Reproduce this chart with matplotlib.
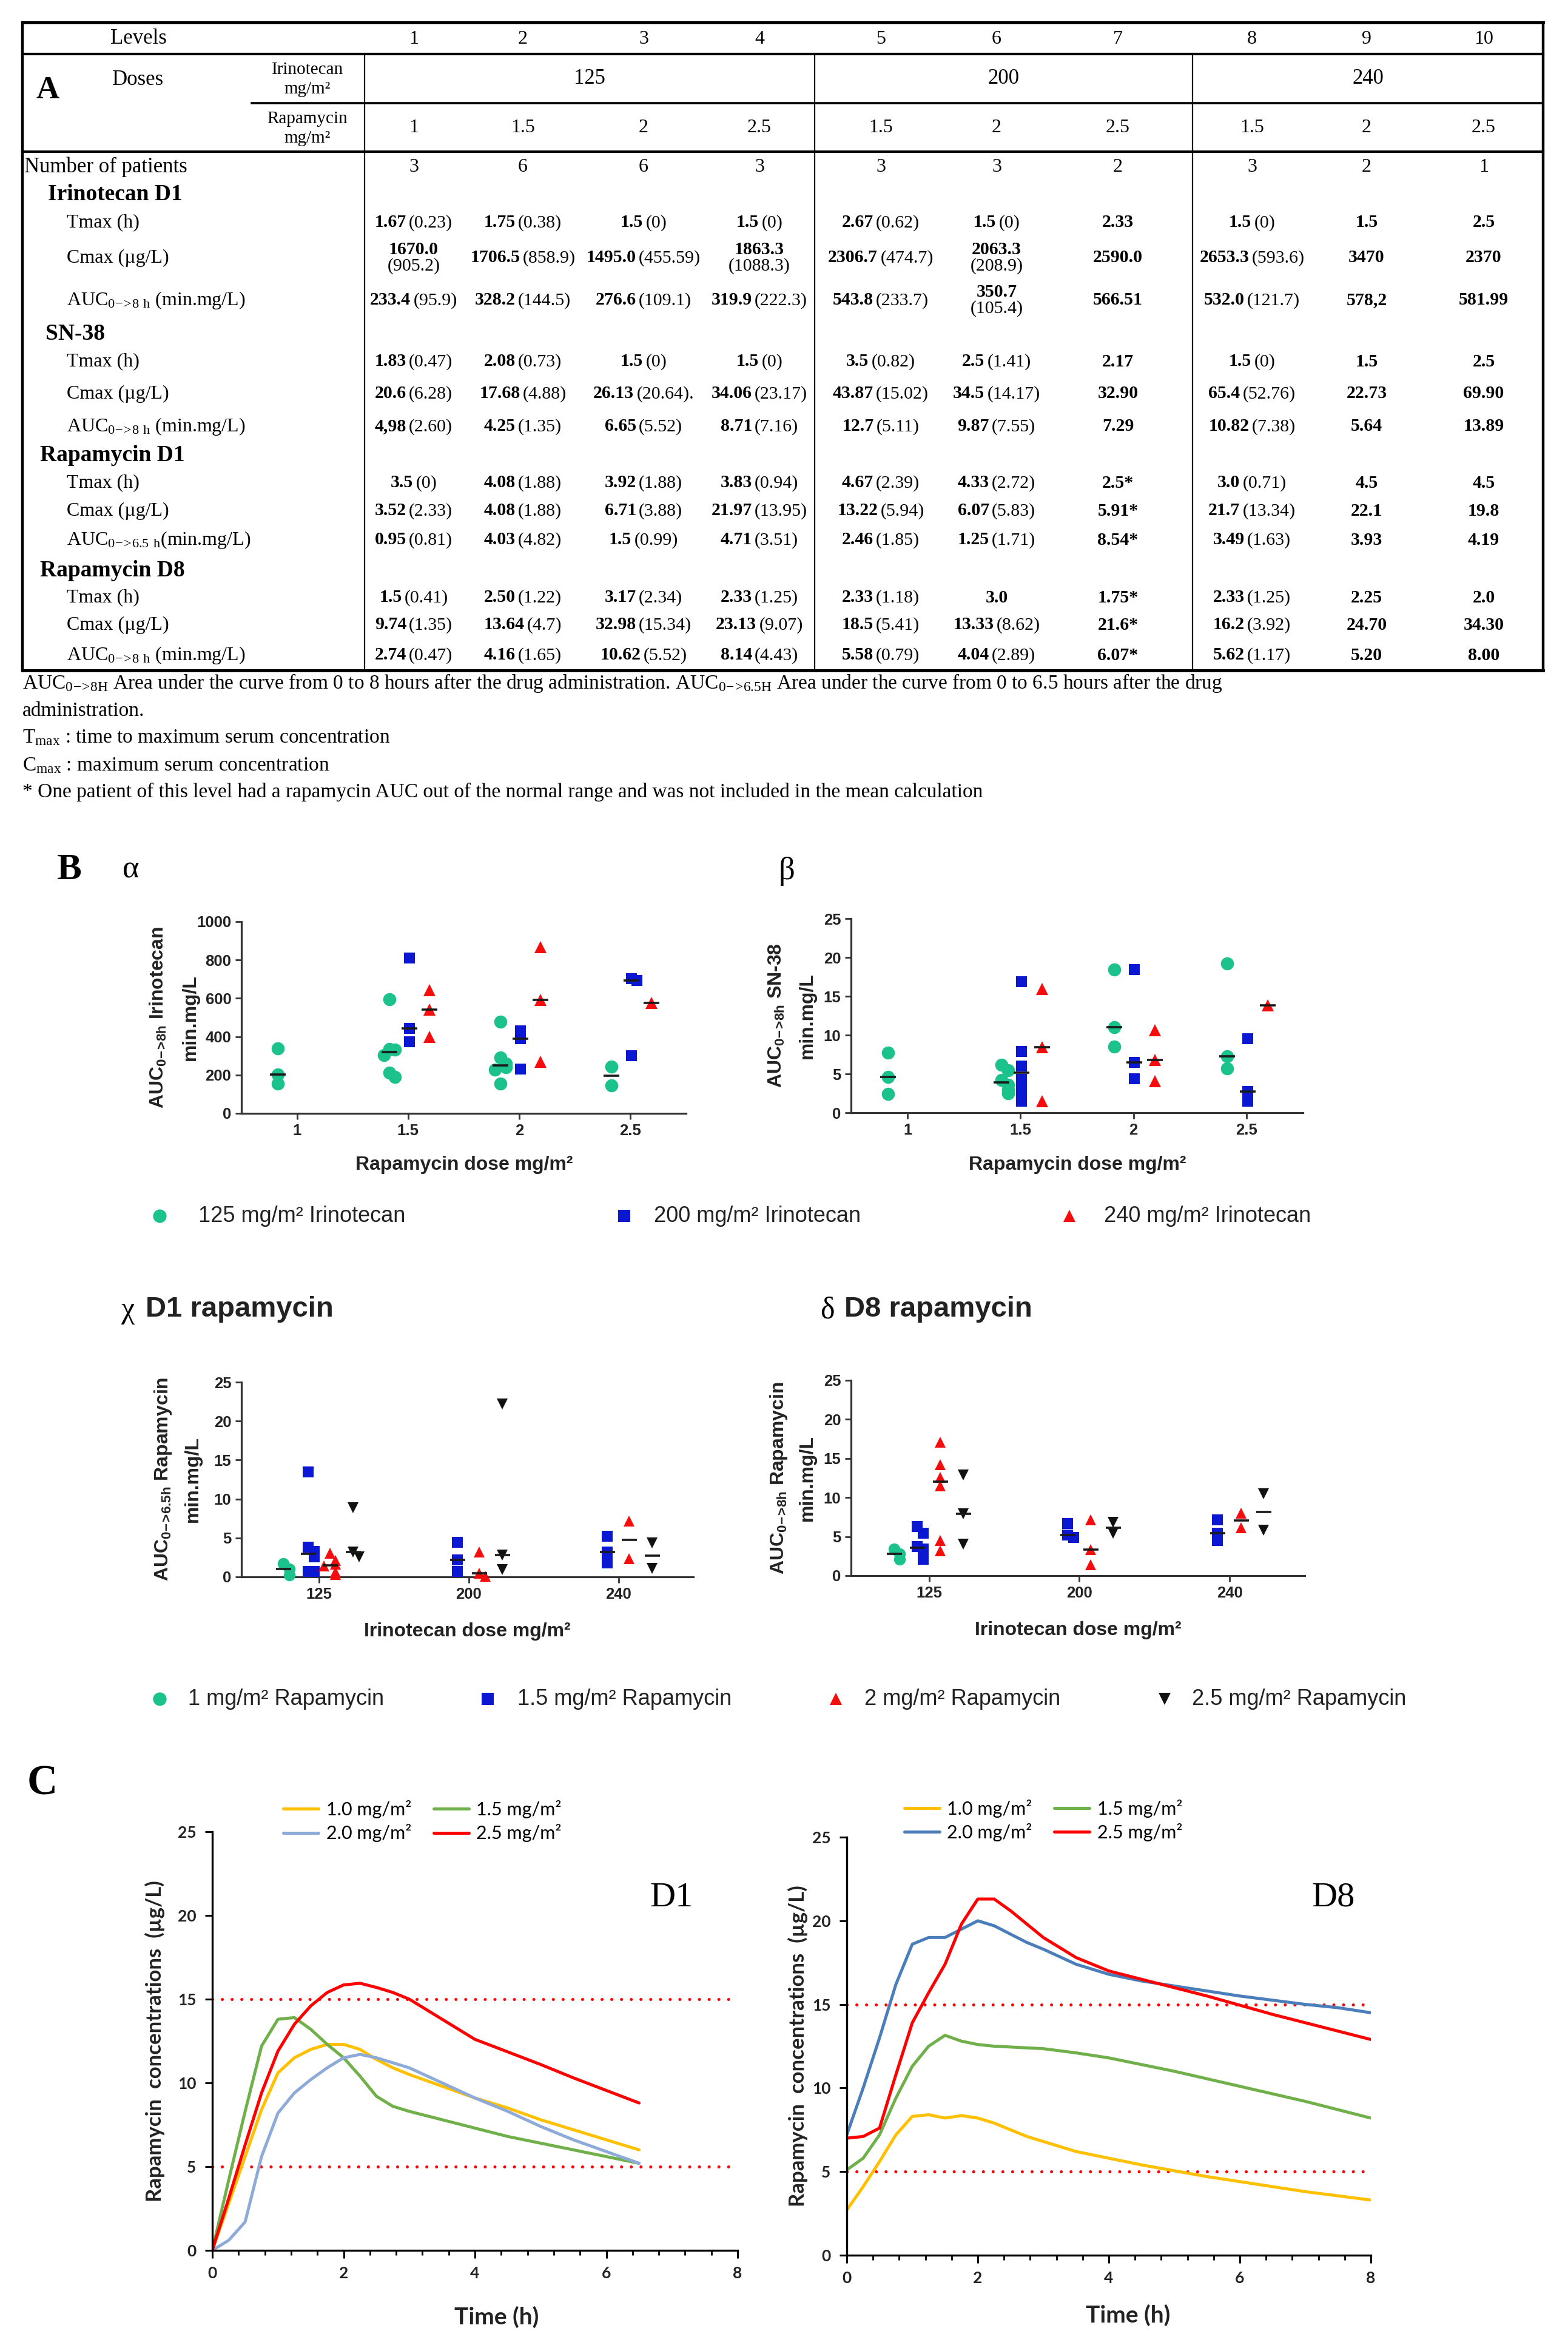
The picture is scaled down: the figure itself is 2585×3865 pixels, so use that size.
import numpy as np
import matplotlib
matplotlib.use("Agg")
import matplotlib.pyplot as plt
from matplotlib.lines import Line2D
from matplotlib.ticker import MultipleLocator
from matplotlib.offsetbox import TextArea, HPacker, VPacker, AnnotationBbox

plt.rcParams['mathtext.default'] = 'regular'

SERIF = 'Liberation Serif'
SANS = 'Liberation Sans'
CAL = 'Lato'

# ---------------- table data (A) ----------------
levels = ["1", "2", "3", "4", "5", "6", "7", "8", "9", "10"]
irino_groups = ["125", "200", "240"]
rapa_doses = ["1", "1.5", "2", "2.5", "1.5", "2", "2.5", "1.5", "2", "2.5"]
n_patients = ["3", "6", "6", "3", "3", "3", "2", "3", "2", "1"]

irino_tmax = ["1.67 (0.23)", "1.75 (0.38)", "1.5 (0)", "1.5 (0)", "2.67 (0.62)", "1.5 (0)", "2.33", "1.5 (0)", "1.5", "2.5"]
irino_cmax = ["1670.0\n(905.2)", "1706.5 (858.9)", "1495.0 (455.59)", "1863.3\n(1088.3)", "2306.7 (474.7)",
              "2063.3\n(208.9)", "2590.0", "2653.3 (593.6)", "3470", "2370"]
irino_auc = ["233.4 (95.9)", "328.2 (144.5)", "276.6 (109.1)", "319.9 (222.3)", "543.8 (233.7)",
             "350.7\n(105.4)", "566.51", "532.0 (121.7)", "578,2", "581.99"]
sn38_tmax = ["1.83 (0.47)", "2.08 (0.73)", "1.5 (0)", "1.5 (0)", "3.5 (0.82)", "2.5 (1.41)", "2.17", "1.5 (0)", "1.5", "2.5"]
sn38_cmax = ["20.6 (6.28)", "17.68 (4.88)", "26.13 (20.64).", "34.06 (23.17)", "43.87 (15.02)", "34.5 (14.17)",
             "32.90", "65.4 (52.76)", "22.73", "69.90"]
sn38_auc = ["4,98 (2.60)", "4.25 (1.35)", "6.65 (5.52)", "8.71 (7.16)", "12.7 (5.11)", "9.87 (7.55)", "7.29",
            "10.82 (7.38)", "5.64", "13.89"]
rd1_tmax = ["3.5 (0)", "4.08 (1.88)", "3.92 (1.88)", "3.83 (0.94)", "4.67 (2.39)", "4.33 (2.72)", "2.5*", "3.0 (0.71)", "4.5", "4.5"]
rd1_cmax = ["3.52 (2.33)", "4.08 (1.88)", "6.71 (3.88)", "21.97 (13.95)", "13.22 (5.94)", "6.07 (5.83)", "5.91*",
            "21.7 (13.34)", "22.1", "19.8"]
rd1_auc = ["0.95 (0.81)", "4.03 (4.82)", "1.5 (0.99)", "4.71 (3.51)", "2.46 (1.85)", "1.25 (1.71)", "8.54*",
           "3.49 (1.63)", "3.93", "4.19"]
rd8_tmax = ["1.5 (0.41)", "2.50 (1.22)", "3.17 (2.34)", "2.33 (1.25)", "2.33 (1.18)", "3.0", "1.75*", "2.33 (1.25)", "2.25", "2.0"]
rd8_cmax = ["9.74 (1.35)", "13.64 (4.7)", "32.98 (15.34)", "23.13 (9.07)", "18.5 (5.41)", "13.33 (8.62)", "21.6*",
            "16.2 (3.92)", "24.70", "34.30"]
rd8_auc = ["2.74 (0.47)", "4.16 (1.65)", "10.62 (5.52)", "8.14 (4.43)", "5.58 (0.79)", "4.04 (2.89)", "6.07*",
           "5.62 (1.17)", "5.20", "8.00"]

# ---------------- scatter data (B) ----------------
rapa_ticks = [1, 1.5, 2, 2.5]
alpha_125 = [[340, 204, 154], [595, 337, 333, 305, 213, 190], [478, 291, 261, 240, 227, 155], [243, 147]]
alpha_200 = [[], [811, 444, 375], [430, 388, 230], [701, 694, 302]]
alpha_240 = [[], [642, 540, 399], [866, 591, 268], [577]]

beta_125 = [[7.7, 4.6, 2.4], [6.2, 5.5, 4.2, 3.6, 3.0, 2.5], [18.4, 11.0, 8.5], [19.2, 7.3, 5.7]]
beta_200 = [[], [16.9, 7.9, 6.0, 4.3, 2.9, 1.5], [18.4, 6.5, 4.4], [9.5, 2.7, 1.5]]
beta_240 = [[], [15.9, 8.4, 1.5], [10.6, 6.8, 4.1], [13.8]]

irino_ticks = ["125", "200", "240"]
chi_1 = [[1.7, 1.0, 0.2], [], []]
chi_15 = [[13.5, 3.8, 3.3, 2.6, 0.7, 0.7], [4.45, 2.2, 0.7], [5.2, 3.2, 1.8]]
chi_2 = [[3.0, 2.1, 1.6, 1.4, 0.6, 0.3], [3.2, 0.45, 0.07], [7.2, 2.3]]
chi_25 = [[8.9, 3.2, 2.6], [22.2, 2.8, 0.95], [4.35, 1.1]]

delta_1 = [[3.4, 2.8, 2.1], [], []]
delta_15 = [[6.3, 5.45, 3.75, 3.4, 2.5, 2.1], [6.65, 5.2, 4.9], [7.15, 5.4, 4.5]]
delta_2 = [[17.1, 14.2, 12.6, 11.5, 4.5, 3.2], [7.15, 3.3, 1.4], [8.0, 6.1]]
delta_25 = [[12.9, 7.9, 4.0], [6.85, 5.45], [10.5, 5.8]]

# ---------------- concentration curves (C) ----------------
d1_time = [0, 0.25, 0.5, 0.75, 1.0, 1.25, 1.5, 1.75, 2.0, 2.25, 2.5, 2.75, 3.0, 3.5, 4.0, 4.5, 5.0, 5.5, 6.0, 6.5]
d1_10 = [0, 2.8, 5.6, 8.4, 10.6, 11.5, 12.0, 12.3, 12.3, 12.0, 11.4, 10.9, 10.5, 9.8, 9.1, 8.5, 7.8, 7.2, 6.6, 6.0]
d1_15 = [0, 4.2, 8.3, 12.2, 13.8, 13.9, 13.2, 12.3, 11.5, 10.4, 9.2, 8.6, 8.3, 7.8, 7.3, 6.8, 6.4, 6.0, 5.6, 5.2]
d1_20 = [0, 0.6, 1.7, 5.6, 8.2, 9.4, 10.2, 10.9, 11.5, 11.7, 11.5, 11.2, 10.9, 10.0, 9.1, 8.3, 7.4, 6.6, 5.9, 5.2]
d1_25 = [0, 3.1, 6.3, 9.4, 11.9, 13.5, 14.6, 15.4, 15.85, 15.95, 15.7, 15.4, 15.0, 13.8, 12.6, 11.85, 11.1, 10.3, 9.55, 8.8]

d8_time = [0, 0.25, 0.5, 0.75, 1.0, 1.25, 1.5, 1.75, 2.0, 2.25, 2.5, 2.75, 3.0, 3.5, 4.0, 4.5, 5.0, 5.5,
           6.0, 6.5, 7.0, 7.5, 8.0]
d8_10 = [2.7, 4.1, 5.6, 7.2, 8.3, 8.4, 8.2, 8.35, 8.2, 7.9, 7.5, 7.1, 6.8, 6.2, 5.8, 5.4, 5.05, 4.7, 4.4, 4.1, 3.8, 3.55, 3.3]
d8_15 = [5.1, 5.8, 7.2, 9.4, 11.3, 12.5, 13.15, 12.8, 12.6, 12.5, 12.45, 12.4, 12.35, 12.1, 11.8, 11.4, 11.0,
         10.55, 10.1, 9.65, 9.2, 8.7, 8.2]
d8_20 = [7.2, 10.0, 13.0, 16.2, 18.6, 19.0, 19.0, 19.5, 20.0, 19.7, 19.2, 18.7, 18.3, 17.4, 16.8, 16.4, 16.1,
         15.8, 15.5, 15.25, 15.0, 14.8, 14.5]
d8_25 = [7.0, 7.1, 7.6, 10.8, 13.9, 15.7, 17.4, 19.8, 21.3, 21.3, 20.6, 19.8, 19.0, 17.8, 17.0, 16.5, 16.0,
         15.5, 14.95, 14.4, 13.9, 13.4, 12.9]
dose_labels = ["1.0 mg/m²", "1.5 mg/m²", "2.0 mg/m²", "2.5 mg/m²"]

W, H = 2585, 3865
fig = plt.figure(figsize=(W / 100, H / 100), dpi=100)


def fx(x):
    return x / W


def fy(y):
    return 1 - y / H


def ftext(x, y, s, **kw):
    kw.setdefault('ha', 'center')
    kw.setdefault('va', 'center')
    return fig.text(fx(x), fy(y), s, **kw)


def add_ax(l, t, r, b):
    return fig.add_axes([fx(l), fy(b), (r - l) / W, (b - t) / H])


def hline(y, x0, x1, lw):
    fig.add_artist(Line2D([fx(x0), fx(x1)], [fy(y), fy(y)], transform=fig.transFigure,
                          color='black', lw=lw, solid_capstyle='projecting'))


def vline(x, y0, y1, lw):
    fig.add_artist(Line2D([fx(x), fx(x)], [fy(y0), fy(y1)], transform=fig.transFigure,
                          color='black', lw=lw, solid_capstyle='projecting'))


def cell(x, y, s, size=21.5):
    bold = dict(fontsize=size, fontweight='bold', family=SERIF)
    reg = dict(fontsize=size, family=SERIF)
    if "(" in s:
        i = s.index("(")
        tb = TextArea(s[:i].strip(), textprops=bold)
        tp = TextArea(s[i:], textprops=reg)
        if "\n" in s:
            box = VPacker(children=[tb, tp], align='center', pad=0, sep=0)
        else:
            box = HPacker(children=[tb, tp], align='baseline', pad=0, sep=3)
    else:
        box = TextArea(s, textprops=bold)
    fig.add_artist(AnnotationBbox(box, (fx(x), fy(y)), xycoords='figure fraction', frameon=False,
                                  box_alignment=(0.5, 0.5), pad=0))


def sub(s):
    # subscript like 0->8h, tightened so mathtext does not pad the operators
    return "$_{" + s.replace("->", r"\!-\!\!>\!") + "}$"


# ================= A : table =================
col_x = [682, 862, 1061, 1252, 1452, 1643, 1843, 2064, 2253, 2446]
L, R = 37, 2544
hline(37, L, R, 3.6)
hline(89, L, R, 3.0)
hline(170, 415, R, 2.6)
hline(250, L, R, 3.0)
hline(1105, L, R, 3.6)
vline(L, 37, 1105, 3.2)
vline(R, 37, 1105, 3.2)
for xv in (601, 1343, 1966):
    vline(xv, 89, 1105, 1.6)

ftext(228, 64, "Levels", fontsize=25, family=SERIF)
for x, s in zip(col_x, levels):
    ftext(x, 64, s, fontsize=23, family=SERIF)
ftext(79, 149, "A", fontsize=38, fontweight='bold', family=SERIF)
ftext(228, 132, "Doses", fontsize=25, family=SERIF)
ftext(507, 131, "Irinotecan\nmg/m²", fontsize=21, family=SERIF, linespacing=1.3)
ftext(507, 212, "Rapamycin\nmg/m²", fontsize=21, family=SERIF, linespacing=1.3)
for x, s in zip([972, 1654, 2255], irino_groups):
    ftext(x, 130, s, fontsize=25, family=SERIF)
for x, s in zip(col_x, rapa_doses):
    ftext(x, 211, s, fontsize=23, family=SERIF)
ftext(40, 275, "Number of patients", fontsize=25, family=SERIF, ha='left')
for x, s in zip(col_x, n_patients):
    ftext(x, 275, s, fontsize=23, family=SERIF)

sections = [("Irinotecan D1", 79, 321), ("SN-38", 75, 551), ("Rapamycin D1", 66, 751), ("Rapamycin D8", 66, 940)]
for s, x, y in sections:
    ftext(x, y, s, fontsize=27, fontweight='bold', family=SERIF, ha='left')

auc8 = "AUC" + sub(r"0->8\ h") + " (min.mg/L)"
rows = [("Tmax (h)", irino_tmax, 367), ("Cmax (µg/L)", irino_cmax, 425), (auc8, irino_auc, 495),
        ("Tmax (h)", sn38_tmax, 596), ("Cmax (µg/L)", sn38_cmax, 649), (auc8, sn38_auc, 703),
        ("Tmax (h)", rd1_tmax, 796), ("Cmax (µg/L)", rd1_cmax, 842),
        ("AUC" + sub(r"0->6.5\ h") + "(min.mg/L)", rd1_auc, 890),
        ("Tmax (h)", rd8_tmax, 985), ("Cmax (µg/L)", rd8_cmax, 1030), (auc8, rd8_auc, 1080)]
for lab, vals, y in rows:
    ftext(110, y, lab, fontsize=23, family=SERIF, ha='left')
    for x, s in zip(col_x, vals):
        cell(x, y, s)

notes = [("AUC" + sub("0->8H") + " Area under the curve from 0 to 8 hours after the drug administration. "
          "AUC" + sub("0->6.5H") + " Area under the curve from 0 to 6.5 hours after the drug", 1126),
         ("administration.", 1172),
         ("T$_{max}$ : time to maximum serum concentration", 1216),
         ("C$_{max}$ : maximum serum concentration", 1262),
         ("* One patient of this level had a rapamycin AUC out of the normal range and was not included in the mean calculation", 1305)]
for s, y in notes:
    ftext(37, y, s, fontsize=24, family=SERIF, ha='left')

# ================= B : scatter panels =================
GREEN = '#1cc28b'
BLUE = '#0c17d2'
RED = '#f50d0d'
BLACK = '#111111'
AX_COL = '#333333'


def spread(vals, span, w):
    offs, placed = [], []
    steps = [0, 1, -1, 2, -2, 3, -3]
    for v in vals:
        near = sum(1 for u in placed if abs(u - v) < span)
        offs.append(steps[min(near, 6)] * w)
        placed.append(v)
    return offs


def draw_groups(ax, positions, series, span, w, bar_ms):
    for groups, off, mk, col, ms in series:
        for pos, vals in zip(positions, groups):
            if not vals:
                continue
            xs = [pos + off + d for d in spread(vals, span, w)]
            ax.plot(xs, vals, ls='none', marker=mk, ms=ms, color=col, mew=0, clip_on=False, zorder=3)
            ax.plot([pos + off], [np.median(vals)], marker='_', ms=bar_ms, mew=2.6, color='#1a1a1a',
                    clip_on=False, zorder=4)


def style_scatter(ax, xt, xl, yt):
    for s in ('top', 'right'):
        ax.spines[s].set_visible(False)
    for s in ('left', 'bottom'):
        ax.spines[s].set_linewidth(2.3)
        ax.spines[s].set_color(AX_COL)
    ax.set_xticks(xt)
    ax.set_xticklabels(xl)
    ax.set_yticks(yt)
    ax.tick_params(width=2, length=7, color=AX_COL, labelsize=18.5, pad=5, labelcolor='#222222')
    for t in ax.get_xticklabels() + ax.get_yticklabels():
        t.set_fontweight('bold')
        t.set_family(SANS)


ylab_kw = dict(fontsize=23, fontweight='bold', family=SANS, rotation=90, color='#222222')
xlab_kw = dict(fontsize=23, fontweight='bold', family=SANS, color='#222222')

ftext(114, 1434, "B", fontsize=44, fontweight='bold', family=SERIF)
ftext(216, 1434, "α", fontsize=38, family=SERIF)
ftext(1297, 1436, "β", fontsize=38, family=SERIF)

ax_a = add_ax(398, 1519, 1131, 1835)
draw_groups(ax_a, rapa_ticks, [(alpha_125, -0.085, 'o', GREEN, 15.5), (alpha_200, 0.005, 's', BLUE, 13.5),
                               (alpha_240, 0.095, '^', RED, 14)], 40, 0.025, 19)
ax_a.set_xlim(0.75, 2.75)
ax_a.set_ylim(0, 1000)
style_scatter(ax_a, rapa_ticks, ["1", "1.5", "2", "2.5"], range(0, 1001, 200))
ftext(261, 1677, "AUC" + sub("0->8h") + " Irinotecan", **ylab_kw)
ftext(314, 1677, "min.mg/L", **ylab_kw)
ftext(765, 1920, "Rapamycin dose mg/m²", **xlab_kw)

ax_b = add_ax(1403, 1514, 2148, 1834)
draw_groups(ax_b, rapa_ticks, [(beta_125, -0.085, 'o', GREEN, 15.5), (beta_200, 0.005, 's', BLUE, 13.5),
                               (beta_240, 0.095, '^', RED, 14)], 0.8, 0.03, 19)
ax_b.set_xlim(0.75, 2.75)
ax_b.set_ylim(0, 25)
style_scatter(ax_b, rapa_ticks, ["1", "1.5", "2", "2.5"], range(0, 26, 5))
ftext(1280, 1674, "AUC" + sub("0->8h") + " SN-38", **ylab_kw)
ftext(1331, 1674, "min.mg/L", **ylab_kw)
ftext(1776, 1920, "Rapamycin dose mg/m²", **xlab_kw)

leg_kw = dict(fontsize=26, family=SANS, ha='left', color='#222222')
for mx, tx, mk, col, ms, lab in [(263, 327, 'o', GREEN, 16, "125 mg/m² Irinotecan"),
                                 (1029, 1078, 's', BLUE, 14, "200 mg/m² Irinotecan"),
                                 (1763, 1820, '^', RED, 14, "240 mg/m² Irinotecan")]:
    fig.add_artist(Line2D([fx(mx)], [fy(2004)], transform=fig.transFigure, marker=mk, ms=ms, color=col, mew=0))
    ftext(tx, 2004, lab, **leg_kw)

# chi / delta
ftext(211, 2160, "χ", fontsize=36, family=SERIF)
ftext(240, 2158, "D1 rapamycin", fontsize=34, fontweight='bold', family=SANS, ha='left', color='#222222')
ftext(1364, 2160, "δ", fontsize=36, family=SERIF)
ftext(1392, 2158, "D8 rapamycin", fontsize=34, fontweight='bold', family=SANS, ha='left', color='#222222')

cat_pos = [0, 1, 2]
ax_c = add_ax(398, 2278, 1143, 2599)
draw_groups(ax_c, cat_pos, [(chi_1, -0.24, 'o', GREEN, 14), (chi_15, -0.075, 's', BLUE, 13),
                            (chi_2, 0.07, '^', RED, 13), (chi_25, 0.225, 'v', BLACK, 13)], 0.9, 0.04, 18)
ax_c.set_xlim(-0.52, 2.5)
ax_c.set_ylim(0, 25)
style_scatter(ax_c, cat_pos, irino_ticks, range(0, 26, 5))
ftext(269, 2438, "AUC" + sub("0->6.5h") + " Rapamycin", **ylab_kw)
ftext(318, 2438, "min.mg/L", **ylab_kw)
ftext(770, 2689, "Irinotecan dose mg/m²", **xlab_kw)

ax_d = add_ax(1403, 2275, 2151, 2597)
draw_groups(ax_d, cat_pos, [(delta_1, -0.235, 'o', GREEN, 14), (delta_15, -0.08, 's', BLUE, 13),
                            (delta_2, 0.075, '^', RED, 13), (delta_25, 0.225, 'v', BLACK, 13)], 0.9, 0.04, 18)
ax_d.set_xlim(-0.52, 2.5)
ax_d.set_ylim(0, 25)
style_scatter(ax_d, cat_pos, irino_ticks, range(0, 26, 5))
ftext(1284, 2436, "AUC" + sub("0->8h") + " Rapamycin", **ylab_kw)
ftext(1331, 2436, "min.mg/L", **ylab_kw)
ftext(1777, 2687, "Irinotecan dose mg/m²", **xlab_kw)

for mx, tx, mk, col, ms, lab in [(263, 310, 'o', GREEN, 16, "1 mg/m² Rapamycin"),
                                 (804, 853, 's', BLUE, 14, "1.5 mg/m² Rapamycin"),
                                 (1378, 1425, '^', RED, 14, "2 mg/m² Rapamycin"),
                                 (1920, 1965, 'v', BLACK, 14, "2.5 mg/m² Rapamycin")]:
    fig.add_artist(Line2D([fx(mx)], [fy(2800)], transform=fig.transFigure, marker=mk, ms=ms, color=col, mew=0))
    ftext(tx, 2800, lab, **leg_kw)

# ================= C : concentration curves =================
YEL = '#ffc000'
GRN = '#70b04a'
LBLUE = '#8eaad8'
DBLUE = '#4a7ebb'
CRED = '#ff0000'

ftext(70, 2940, "C", fontsize=50, fontweight='bold', family=SERIF)


def conc_panel(ax, t, curves, anchor):
    hs = []
    for y, col, lab in curves:
        h, = ax.plot(t, y, color=col, lw=3.6, label=lab, solid_capstyle='round', solid_joinstyle='round')
        hs.append(h)
    for lvl in (15, 5):
        ax.axhline(lvl, color=CRED, lw=3.6, ls=(0, (0.01, 3.2)), dash_capstyle='round', zorder=1)
    ax.set_xlim(0, 8)
    ax.set_ylim(0, 25)
    ax.set_xticks([0, 2, 4, 6, 8])
    ax.set_yticks(range(0, 26, 5))
    ax.xaxis.set_minor_locator(MultipleLocator(0.4))
    for s in ('top', 'right'):
        ax.spines[s].set_visible(False)
    for s in ('left', 'bottom'):
        ax.spines[s].set_linewidth(2.4)
    ax.tick_params(which='major', length=9, width=2.2, labelsize=19, pad=10, labelcolor='#222222')
    ax.tick_params(which='minor', length=6, width=2)
    for tl in ax.get_xticklabels() + ax.get_yticklabels():
        tl.set_fontweight('bold')
        tl.set_family(CAL)
    order = [hs[0], hs[2], hs[1], hs[3]]
    ax.legend(handles=order, ncol=2, loc='center', frameon=False, prop=dict(family=CAL, size=22),
              handlelength=1.9, handletextpad=0.4, columnspacing=1.2, labelspacing=0.3,
              bbox_to_anchor=anchor)


ax_c1 = add_ax(350, 3019, 1216, 3709)
conc_panel(ax_c1, d1_time, [(d1_10, YEL, dose_labels[0]), (d1_15, GRN, dose_labels[1]),
                            (d1_20, LBLUE, dose_labels[2]), (d1_25, CRED, dose_labels[3])], (0.40, 1.025))
ftext(1107, 3128, "D1", fontsize=42, family=SERIF)
ftext(255, 3364, "Rapamycin  concentrations  (µg/L)", fontsize=25, fontweight='bold', family=CAL, rotation=90,
      color='#222222')
ftext(819, 3819, "Time (h)", fontsize=28, fontweight='bold', family=CAL, color='#222222')

ax_c2 = add_ax(1396, 3028, 2260, 3717)
conc_panel(ax_c2, d8_time, [(d8_10, YEL, dose_labels[0]), (d8_15, GRN, dose_labels[1]),
                            (d8_20, DBLUE, dose_labels[2]), (d8_25, CRED, dose_labels[3])], (0.375, 1.04))
ftext(2198, 3128, "D8", fontsize=42, family=SERIF)
ftext(1315, 3372, "Rapamycin  concentrations  (µg/L)", fontsize=25, fontweight='bold', family=CAL, rotation=90,
      color='#222222')
ftext(1860, 3816, "Time (h)", fontsize=28, fontweight='bold', family=CAL, color='#222222')

fig.savefig("out.png", dpi=100, facecolor='white')
